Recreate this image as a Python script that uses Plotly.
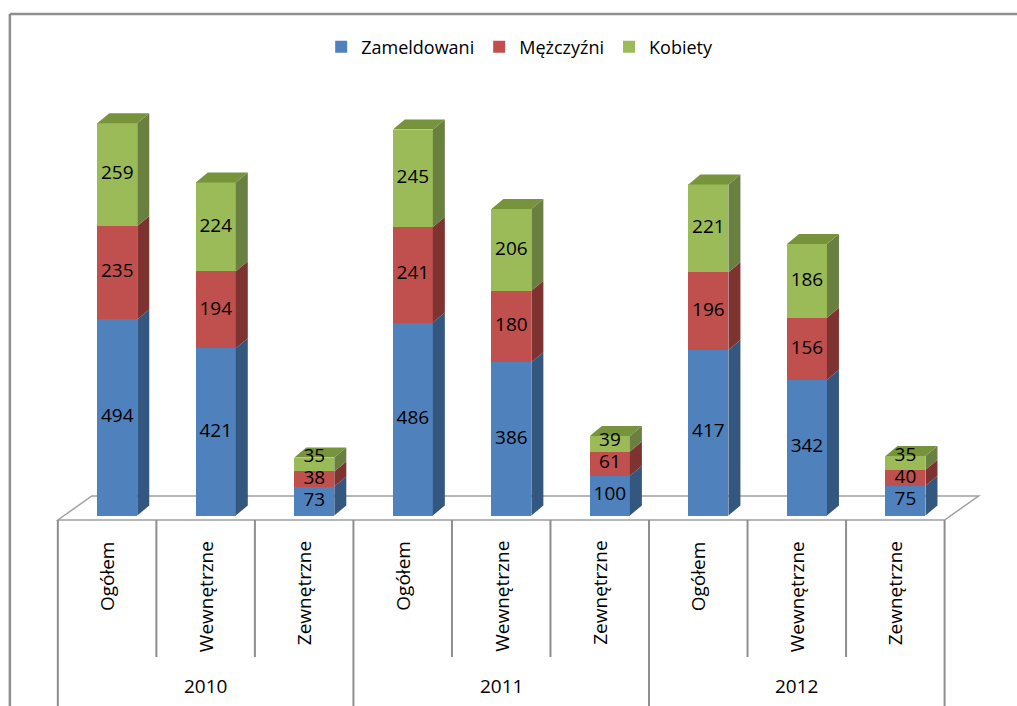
import plotly.graph_objects as go

# ---- data ----
years = ["2010", "2011", "2012"]
subcats = ["Ogółem", "Wewnętrzne", "Zewnętrzne"]
zameldowani = [494, 421, 73, 486, 386, 100, 417, 342, 75]
mezczyzni = [235, 194, 38, 241, 180, 61, 196, 156, 40]
kobiety = [259, 224, 35, 245, 206, 39, 221, 186, 35]
series_names = ["Zameldowani", "Mężczyźni", "Kobiety"]

# ---- styling / geometry ----
W, H = 1017, 706
FONT = "Open Sans"
front_cols = ["#4F81BD", "#C0504D", "#9BBB59"]
side_cols = ["#34577F", "#7F3331", "#6A8040"]
top_cols = ["#3F6799", "#99403D", "#77933C"]

# pixel mapping of plot area
L_PX, R_PX = 48.14, 984.4
T_PX, B_PX = 90, 706
XR = [-0.6, 8.9]
Y0_PX = 515.5           # pixel row of value 0
PXU = 0.397             # pixels per unit
YR = [-(B_PX - Y0_PX) / PXU, (Y0_PX - T_PX) / PXU]
XU = (R_PX - L_PX) / (XR[1] - XR[0])   # pixels per category


def yv(px):
    return (Y0_PX - px) / PXU


def px_paper_x(px):
    return (px - L_PX) / (R_PX - L_PX)


def px_paper_y(py):
    return (B_PX - py) / (B_PX - T_PX)


bar_off = 0.103
bar_w = 0.406
ddx = 12 / XU
ddy = 10 / PXU
min_label_gap = 22 / PXU   # minimal spacing between stacked labels

n = len(zameldowani)
xs = [i + bar_off for i in range(n)]
series = [zameldowani, mezczyzni, kobiety]

fig = go.Figure()

# front faces
for k, (name, vals) in enumerate(zip(series_names, series)):
    fig.add_trace(go.Bar(
        x=xs, y=vals, width=bar_w, name=name,
        marker=dict(color=front_cols[k], line=dict(width=0)),
        hoverinfo="skip",
    ))

# side faces and top faces
cum = [0] * n
for k, vals in enumerate(series):
    sx, sy = [], []
    for i in range(n):
        x1 = xs[i] + bar_w / 2
        b, t = cum[i], cum[i] + vals[i]
        sx += [x1, x1 + ddx, x1 + ddx, x1, x1, None]
        sy += [b, b + ddy, t + ddy, t, b, None]
    fig.add_trace(go.Scatter(x=sx, y=sy, mode="lines", fill="toself",
                             fillcolor=side_cols[k], line=dict(width=0),
                             showlegend=False, hoverinfo="skip"))
    cum = [c + v for c, v in zip(cum, vals)]

tx, ty = [], []
for i in range(n):
    x0 = xs[i] - bar_w / 2
    x1 = xs[i] + bar_w / 2
    t = cum[i]
    tx += [x0, x1, x1 + ddx, x0 + ddx, x0, None]
    ty += [t, t, t + ddy, t + ddy, t, None]
fig.add_trace(go.Scatter(x=tx, y=ty, mode="lines", fill="toself",
                         fillcolor=top_cols[2], line=dict(width=0),
                         showlegend=False, hoverinfo="skip"))

# data labels (centered in each segment, nudged up when too close)
lx, ly, lt = [], [], []
cum = [0] * n
prev = [None] * n
for vals in series:
    for i in range(n):
        y = cum[i] + vals[i] / 2
        if prev[i] is not None and y - prev[i] < min_label_gap:
            y = prev[i] + min_label_gap
        prev[i] = y
        lx.append(xs[i])
        ly.append(y)
        lt.append(str(vals[i]))
    cum = [c + v for c, v in zip(cum, vals)]
fig.add_trace(go.Scatter(x=lx, y=ly, text=lt, mode="text",
                         textfont=dict(family=FONT, size=19, color="#000000"),
                         showlegend=False, hoverinfo="skip"))

shapes = []
gray = "#8E8E8E"
# floor
fy_front, fy_back = yv(520), yv(496)
fxl, fxr = -0.5, n - 0.5
shift = 34 / XU
shapes.append(dict(type="path", xref="x", yref="y", layer="below",
                   path=f"M{fxl},{fy_front} L{fxl+shift},{fy_back} L{fxr+shift},{fy_back} L{fxr},{fy_front} Z",
                   line=dict(color="#A0A0A0", width=1.5), fillcolor="rgba(0,0,0,0)"))
# table lines
for j in range(n + 1):
    xb = j - 0.5
    bottom = yv(706) if j % 3 == 0 else yv(657)
    shapes.append(dict(type="line", xref="x", yref="y", x0=xb, x1=xb,
                       y0=fy_front, y1=bottom, line=dict(color=gray, width=2)))
# chart border (left and top)
shapes.append(dict(type="line", xref="paper", yref="paper",
                   x0=px_paper_x(10), x1=px_paper_x(10),
                   y0=px_paper_y(14), y1=px_paper_y(720),
                   line=dict(color=gray, width=2.5)))
shapes.append(dict(type="line", xref="paper", yref="paper",
                   x0=px_paper_x(10), x1=px_paper_x(1030),
                   y0=px_paper_y(14), y1=px_paper_y(14),
                   line=dict(color=gray, width=2.5)))

annotations = []
for i in range(n):
    annotations.append(dict(x=i, y=yv(539), xref="x", yref="y",
                            text=subcats[i % 3], textangle=-90,
                            showarrow=False, xanchor="center", yanchor="top",
                            font=dict(family=FONT, size=19, color="#000000")))
for g, yr in enumerate(years):
    annotations.append(dict(x=3 * g + 1, y=yv(686), xref="x", yref="y",
                            text=yr, showarrow=False,
                            xanchor="center", yanchor="middle",
                            font=dict(family=FONT, size=19, color="#000000")))

fig.update_layout(
    width=W, height=H,
    margin=dict(l=L_PX, r=W - R_PX, t=T_PX, b=H - B_PX, pad=0),
    paper_bgcolor="white", plot_bgcolor="white",
    barmode="stack", bargap=0,
    xaxis=dict(range=XR, visible=False, fixedrange=True),
    yaxis=dict(range=YR, visible=False, fixedrange=True),
    shapes=shapes, annotations=annotations,
    legend=dict(orientation="h", xref="container", yref="container",
                x=0.511, y=1 - 47 / H, xanchor="center", yanchor="middle",
                font=dict(family=FONT, size=18, color="#000000"),
                itemwidth=30, traceorder="normal", bgcolor="rgba(0,0,0,0)"),
    font=dict(family=FONT),
    showlegend=True,
)

fig.write_html("out.html", config={"displayModeBar": False},
               post_script="document.body.style.margin='0';document.body.style.overflow='hidden';")
